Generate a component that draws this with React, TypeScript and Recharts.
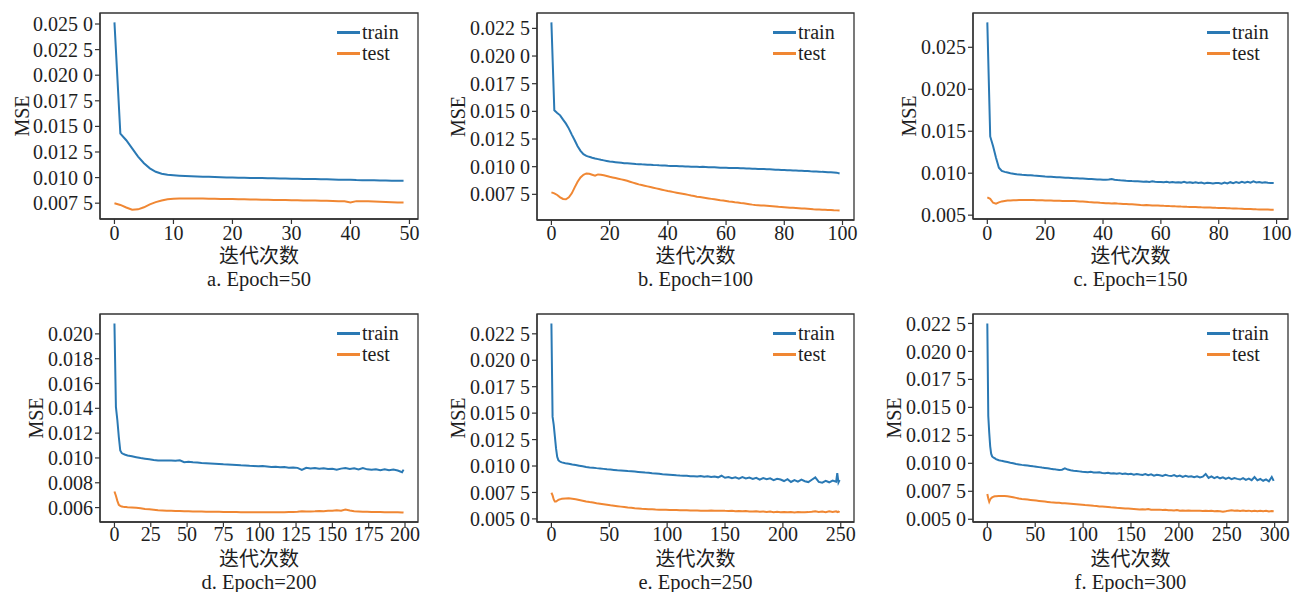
import React from 'react';
import { LineChart, Line, XAxis, YAxis, Legend, ReferenceArea } from 'recharts';

// ---------------- DATA ----------------
const trainA = [
  0.02516, 0.0143, 0.01365, 0.01285, 0.01205, 0.0114, 0.0109, 0.01057, 0.01037, 0.01027,
  0.01022, 0.01018, 0.01015, 0.01013, 0.01011, 0.01009, 0.01007, 0.01005, 0.01003, 0.01002,
  0.0100, 0.00999, 0.00998, 0.00997, 0.00996, 0.00995, 0.00994, 0.00993, 0.00991, 0.0099,
  0.00989, 0.00988, 0.00987, 0.00986, 0.00985, 0.00984, 0.00983, 0.00981, 0.0098, 0.00978,
  0.00979, 0.00976, 0.00975, 0.00974, 0.00973, 0.00972, 0.00971, 0.0097, 0.00969, 0.00968,
];
const testA = [
  0.0075, 0.00733, 0.00708, 0.00687, 0.0069, 0.0071, 0.00738, 0.0076, 0.00777, 0.00789,
  0.00794, 0.00796, 0.00796, 0.00796, 0.00795, 0.00795, 0.00794, 0.00793, 0.00792, 0.00791,
  0.0079, 0.00789, 0.00788, 0.00786, 0.00785, 0.00784, 0.00783, 0.00782, 0.00781, 0.0078,
  0.00779, 0.00778, 0.00777, 0.00776, 0.00775, 0.00774, 0.00773, 0.00771, 0.0077, 0.00768,
  0.00758, 0.0077, 0.0077, 0.00769, 0.00766, 0.00763, 0.00761, 0.00759, 0.00757, 0.00756,
];

const trainB = [
  0.02304, 0.01509, 0.01485, 0.01464, 0.01425, 0.01389, 0.01344, 0.0129, 0.01239, 0.01185,
  0.01143, 0.01113, 0.01098, 0.01089, 0.01081, 0.01074, 0.01068, 0.01062, 0.01057, 0.01052,
  0.01047, 0.01044, 0.01041, 0.01038, 0.01035, 0.01032, 0.0103, 0.01028, 0.01026, 0.01024,
  0.01023, 0.01021, 0.0102, 0.01018, 0.01017, 0.01015, 0.01014, 0.01012, 0.01011, 0.0101,
  0.01008, 0.01007, 0.01006, 0.01005, 0.01004, 0.01003, 0.01002, 0.01001, 0.0100, 0.0100,
  0.00999, 0.00998, 0.00999, 0.00997, 0.00995, 0.00994, 0.00995, 0.00993, 0.00991, 0.00991,
  0.0099, 0.00989, 0.00988, 0.00988, 0.00987, 0.00986, 0.00985, 0.00984, 0.00983, 0.00982,
  0.00981, 0.0098, 0.00979, 0.00978, 0.00977, 0.00976, 0.00975, 0.00973, 0.00972, 0.0097,
  0.00969, 0.00968, 0.00967, 0.00966, 0.00965, 0.00964, 0.00963, 0.00961, 0.0096, 0.00958,
  0.00957, 0.00956, 0.00955, 0.00953, 0.00952, 0.0095, 0.00949, 0.00948, 0.00946, 0.00939,
];
const testB = [
  0.00768, 0.00759, 0.00744, 0.00723, 0.00708, 0.00705, 0.00723, 0.00759, 0.00813, 0.00864,
  0.00903, 0.00927, 0.00939, 0.00936, 0.00927, 0.00918, 0.0093, 0.00927, 0.00922, 0.00916,
  0.00909, 0.00903, 0.00897, 0.00891, 0.00885, 0.00879, 0.00872, 0.00864, 0.00856, 0.00848,
  0.0084, 0.00834, 0.00828, 0.00822, 0.00816, 0.0081, 0.00804, 0.00798, 0.00792, 0.00786,
  0.0078, 0.00775, 0.0077, 0.00765, 0.0076, 0.00755, 0.0075, 0.00745, 0.00739, 0.00734,
  0.00729, 0.00725, 0.00721, 0.00717, 0.00713, 0.00709, 0.00705, 0.00701, 0.00697, 0.00694,
  0.0069, 0.00686, 0.00683, 0.00679, 0.00676, 0.00672, 0.00669, 0.00665, 0.00661, 0.00657,
  0.00654, 0.00652, 0.0065, 0.00648, 0.00646, 0.00644, 0.00642, 0.0064, 0.00637, 0.00635,
  0.00633, 0.00631, 0.00629, 0.00628, 0.00626, 0.00624, 0.00622, 0.00621, 0.00619, 0.00617,
  0.00615, 0.00614, 0.00613, 0.00611, 0.0061, 0.00609, 0.00608, 0.00606, 0.00605, 0.00603,
];

const trainC = [
  0.02797, 0.01438, 0.0132, 0.01184, 0.01066, 0.01027, 0.01016, 0.01008, 0.0100, 0.00994,
  0.00988, 0.00985, 0.00982, 0.0098, 0.00977, 0.00975, 0.00972, 0.0097, 0.00967, 0.00964,
  0.00961, 0.00959, 0.00957, 0.00955, 0.00953, 0.00951, 0.00949, 0.00947, 0.00945, 0.00943,
  0.00941, 0.00939, 0.00937, 0.00936, 0.00934, 0.00932, 0.0093, 0.00928, 0.00926, 0.00925,
  0.00922, 0.00921, 0.00924, 0.0093, 0.00922, 0.00918, 0.00915, 0.00913, 0.0091, 0.00908,
  0.00906, 0.00905, 0.00903, 0.00901, 0.00898, 0.00902, 0.00896, 0.00903, 0.00897, 0.00895,
  0.00895, 0.00892, 0.00897, 0.0089, 0.00894, 0.00889, 0.00893, 0.00888, 0.00898, 0.00886,
  0.00891, 0.00885, 0.00893, 0.00884, 0.00888, 0.00879, 0.00886, 0.00882, 0.00878, 0.00884,
  0.00883, 0.00876, 0.00889, 0.00878, 0.00893, 0.00882, 0.00894, 0.00884, 0.00897, 0.00888,
  0.00899, 0.00888, 0.00902, 0.0089, 0.00896, 0.00887, 0.00891, 0.00885, 0.00884, 0.00883,
];
const testC = [
  0.00711, 0.00695, 0.00648, 0.00637, 0.00652, 0.00664, 0.0067, 0.00674, 0.00676, 0.00678,
  0.00679, 0.0068, 0.0068, 0.0068, 0.0068, 0.0068, 0.0068, 0.00679, 0.00678, 0.00677,
  0.00676, 0.00675, 0.00674, 0.00673, 0.00672, 0.00671, 0.0067, 0.00669, 0.00669, 0.00668,
  0.00668, 0.00666, 0.00664, 0.00662, 0.0066, 0.00657, 0.00655, 0.00652, 0.0065, 0.00647,
  0.00645, 0.00643, 0.00642, 0.0064, 0.00641, 0.00638, 0.00636, 0.00634, 0.00632, 0.0063,
  0.00629, 0.00627, 0.00624, 0.0062, 0.00619, 0.0062, 0.00618, 0.00616, 0.00615, 0.00614,
  0.00613, 0.00611, 0.0061, 0.00608, 0.00607, 0.00605, 0.00604, 0.00602, 0.00601, 0.00599,
  0.00598, 0.00597, 0.00596, 0.00595, 0.00593, 0.00592, 0.00591, 0.0059, 0.00589, 0.00587,
  0.00586, 0.00586, 0.00585, 0.00583, 0.00581, 0.0058, 0.00579, 0.00578, 0.00577, 0.00575,
  0.00574, 0.00573, 0.00572, 0.0057, 0.00569, 0.00568, 0.00568, 0.00567, 0.00566, 0.00566,
];

const epochsD = [
  0, 1, 2, 3, 4, 5, 6, 7, 8, 9, 12, 15, 18, 21, 24, 27, 30, 33, 36, 39, 42, 45, 48, 51, 54, 57,
  60, 63, 66, 69, 72, 75, 78, 81, 84, 87, 90, 93, 96, 99, 102, 105, 108, 111, 114, 117, 120,
  123, 126, 129, 132, 135, 138, 141, 144, 147, 150, 153, 156, 159, 162, 165, 168, 171, 174,
  177, 180, 183, 186, 189, 192, 195, 198, 199,
];
const trainD = [
  0.02084, 0.01412, 0.01304, 0.01169, 0.0106, 0.01039, 0.01033, 0.01028, 0.01024, 0.0102,
  0.01013, 0.01006, 0.00999, 0.00994, 0.00989, 0.00984, 0.0098, 0.00979, 0.00979, 0.0098,
  0.00978, 0.00981, 0.00966, 0.00969, 0.00965, 0.00963, 0.0096, 0.00958, 0.00956, 0.00954,
  0.00952, 0.00949, 0.00948, 0.00946, 0.00944, 0.00941, 0.0094, 0.00937, 0.00935, 0.00933,
  0.00936, 0.00932, 0.00928, 0.00929, 0.00925, 0.00927, 0.00922, 0.00924, 0.0092, 0.00903,
  0.0092, 0.00916, 0.00919, 0.00914, 0.00917, 0.00911, 0.00913, 0.00905, 0.00914, 0.00919,
  0.00912, 0.00916, 0.00907, 0.00918, 0.00908, 0.00904, 0.00909, 0.00902, 0.00908, 0.00901,
  0.00906, 0.00899, 0.00885, 0.00906,
];
const testD = [
  0.0073, 0.00695, 0.00654, 0.00622, 0.00614, 0.00608, 0.00606, 0.00605, 0.00604, 0.00603,
  0.00601, 0.00598, 0.00594, 0.00589, 0.00586, 0.00582, 0.00578, 0.00577, 0.00575, 0.00574,
  0.00573, 0.00572, 0.00571, 0.0057, 0.00569, 0.00568, 0.00568, 0.00567, 0.00567, 0.00566,
  0.00566, 0.00565, 0.00565, 0.00564, 0.00564, 0.00563, 0.00563, 0.00563, 0.00562, 0.00562,
  0.00562, 0.00562, 0.00562, 0.00562, 0.00563, 0.00563, 0.00564, 0.00565, 0.00567, 0.00571,
  0.00568, 0.00569, 0.0057, 0.00572, 0.00571, 0.00574, 0.00575, 0.00579, 0.00574, 0.00584,
  0.00576, 0.00571, 0.00569, 0.00567, 0.00566, 0.00565, 0.00564, 0.00564, 0.00563, 0.00563,
  0.00562, 0.00562, 0.00561, 0.0056,
];

const epochsE = [
  0, 1, 2, 3, 4, 5, 6, 7, 8, 9, 12, 15, 18, 21, 24, 27, 30, 33, 36, 39, 42, 45, 48, 51, 54, 57,
  60, 63, 66, 69, 72, 75, 78, 81, 84, 87, 90, 93, 96, 99, 102, 105, 108, 111, 114, 117, 120,
  123, 126, 129, 132, 135, 138, 141, 144, 147, 150, 153, 156, 159, 162, 165, 168, 171, 174,
  177, 180, 183, 186, 189, 192, 195, 198, 201, 204, 207, 210, 213, 216, 219, 222, 225, 228,
  231, 234, 237, 240, 243, 246, 247, 248, 249,
];
const trainE = [
  0.02348, 0.01467, 0.01388, 0.01277, 0.01166, 0.01087, 0.01055, 0.01045, 0.01039, 0.01034,
  0.01027, 0.01022, 0.01014, 0.01009, 0.01003, 0.00997, 0.00991, 0.00987, 0.00984, 0.0098,
  0.00977, 0.00973, 0.00969, 0.00966, 0.00963, 0.0096, 0.00958, 0.00955, 0.00952, 0.0095,
  0.00947, 0.00944, 0.00941, 0.00938, 0.00936, 0.00932, 0.00929, 0.00926, 0.00922, 0.0092,
  0.00918, 0.00916, 0.00912, 0.0091, 0.00909, 0.00907, 0.00903, 0.00904, 0.00901, 0.00906,
  0.00899, 0.00904, 0.00896, 0.00901, 0.00893, 0.00908, 0.00889, 0.00896, 0.00885, 0.00893,
  0.00881, 0.00895, 0.00883, 0.00891, 0.00877, 0.00889, 0.00871, 0.00886, 0.00876, 0.00883,
  0.00866, 0.00879, 0.00872, 0.00858, 0.00876, 0.00849, 0.00866, 0.00852, 0.00871, 0.00856,
  0.00848, 0.0087, 0.00893, 0.0085, 0.00843, 0.00859, 0.00846, 0.00862, 0.00851,
  0.00932, 0.00845, 0.00868,
];
const testE = [
  0.00747, 0.00722, 0.00684, 0.00665, 0.00664, 0.00672, 0.00679, 0.00684, 0.00687, 0.0069,
  0.00693, 0.00694, 0.00691, 0.00686, 0.00679, 0.00672, 0.00665, 0.00659, 0.00654, 0.00648,
  0.00643, 0.00638, 0.00633, 0.00628, 0.00624, 0.0062, 0.00616, 0.00612, 0.00608, 0.00605,
  0.00601, 0.00598, 0.00595, 0.00593, 0.00591, 0.0059, 0.00588, 0.00587, 0.00587, 0.00586,
  0.00585, 0.00584, 0.00583, 0.00582, 0.00581, 0.00581, 0.0058, 0.00579, 0.0058, 0.00578,
  0.00578, 0.00577, 0.00579, 0.00577, 0.00576, 0.00578, 0.00576, 0.00575, 0.00577, 0.00573,
  0.00575, 0.00572, 0.00574, 0.00571, 0.00569, 0.00572, 0.00568, 0.0057, 0.00566, 0.00569,
  0.00564, 0.00567, 0.00563, 0.00566, 0.00562, 0.00565, 0.00561, 0.00564, 0.00562, 0.00563,
  0.00564, 0.00567, 0.00572, 0.00566, 0.00569, 0.00563, 0.00571, 0.00566, 0.00572,
  0.00565, 0.00569, 0.00562,
];

const epochsF = [
  0, 1, 2, 3, 4, 5, 6, 7, 8, 9, 12, 15, 18, 21, 24, 27, 30, 33, 36, 39, 42, 45, 48, 51, 54, 57,
  60, 63, 66, 69, 72, 75, 78, 81, 84, 87, 90, 93, 96, 99, 102, 105, 108, 111, 114, 117, 120,
  123, 126, 129, 132, 135, 138, 141, 144, 147, 150, 153, 156, 159, 162, 165, 168, 171, 174,
  177, 180, 183, 186, 189, 192, 195, 198, 201, 204, 207, 210, 213, 216, 219, 222, 225, 228,
  231, 234, 237, 240, 243, 246, 249, 252, 255, 258, 261, 264, 267, 270, 273, 276, 279, 282,
  285, 288, 291, 294, 297, 299,
];
const trainF = [
  0.0225, 0.01423, 0.01273, 0.01152, 0.01086, 0.01062, 0.01054, 0.01049, 0.01044, 0.01038,
  0.01028, 0.01022, 0.01017, 0.01011, 0.01005, 0.01, 0.00994, 0.0099, 0.00986, 0.00983,
  0.0098, 0.00977, 0.00973, 0.0097, 0.00966, 0.00962, 0.00959, 0.00955, 0.00951, 0.00948,
  0.00944, 0.00941, 0.00943, 0.00955, 0.00944, 0.00938, 0.00934, 0.00932, 0.00928, 0.00924,
  0.00923, 0.00921, 0.00924, 0.00918, 0.00917, 0.0092, 0.00914, 0.00912, 0.00916, 0.0091,
  0.00911, 0.00907, 0.00912, 0.00904, 0.00909, 0.00902, 0.00907, 0.00899, 0.00905, 0.009,
  0.00896, 0.00904, 0.00893, 0.00901, 0.00889, 0.00898, 0.00894, 0.00887, 0.00897, 0.0089,
  0.00886, 0.00895, 0.00882, 0.0089, 0.00878, 0.00888, 0.0088, 0.00885, 0.00876, 0.00884,
  0.00874, 0.00881, 0.00905, 0.0087, 0.00884, 0.00868, 0.00879, 0.00866, 0.00875, 0.00861,
  0.00872, 0.00858, 0.00869, 0.00861, 0.00855, 0.00868, 0.00852, 0.00863, 0.00849, 0.00877,
  0.00848, 0.0086, 0.00844, 0.00856, 0.00839, 0.00878, 0.00843,
];
const testF = [
  0.00726, 0.00686, 0.00656, 0.00677, 0.00688, 0.00695, 0.007, 0.00703, 0.00705, 0.00706,
  0.00707, 0.00708, 0.00707, 0.00705, 0.00701, 0.00696, 0.00691, 0.00686, 0.00682, 0.00679,
  0.00676, 0.00673, 0.0067, 0.00667, 0.00664, 0.00661, 0.00658, 0.00655, 0.00652, 0.0065,
  0.00648, 0.00647, 0.00644, 0.00642, 0.0064, 0.00638, 0.00636, 0.00634, 0.00632, 0.0063,
  0.00627, 0.00625, 0.00623, 0.0062, 0.00618, 0.00615, 0.00613, 0.00611, 0.00609, 0.00607,
  0.00606, 0.00603, 0.00601, 0.00599, 0.00597, 0.00596, 0.00594, 0.00592, 0.0059, 0.00588,
  0.00589, 0.00587, 0.00591, 0.00585, 0.00586, 0.00584, 0.00586, 0.00582, 0.00584, 0.0058,
  0.00581, 0.00578, 0.00582, 0.00576, 0.00579, 0.00576, 0.00578, 0.00575, 0.00577, 0.00575,
  0.00576, 0.00574, 0.00576, 0.00573, 0.00575, 0.00572, 0.00574, 0.00571, 0.00568, 0.00572,
  0.00577, 0.00581, 0.00576, 0.00579, 0.00574, 0.00578, 0.00573, 0.00577, 0.00572, 0.00576,
  0.00571, 0.00576, 0.00572, 0.00575, 0.0057, 0.00574, 0.00572,
];

// ---------------- TICKS ----------------
const xTicks50 = [0, 10, 20, 30, 40, 50];
const xTicks100 = [0, 20, 40, 60, 80, 100];
const xTicks200 = [0, 25, 50, 75, 100, 125, 150, 175, 200];
const xTicks250 = [0, 50, 100, 150, 200, 250];
const xTicks300 = [0, 50, 100, 150, 200, 250, 300];

const yTicksA = [0.0075, 0.01, 0.0125, 0.015, 0.0175, 0.02, 0.0225, 0.025];
const yLabelsA = ['0.007 5', '0.010 0', '0.012 5', '0.015 0', '0.017 5', '0.020 0', '0.022 5', '0.025 0'];
const yTicksB = [0.0075, 0.01, 0.0125, 0.015, 0.0175, 0.02, 0.0225];
const yLabelsB = ['0.007 5', '0.010 0', '0.012 5', '0.015 0', '0.017 5', '0.020 0', '0.022 5'];
const yTicksC = [0.005, 0.01, 0.015, 0.02, 0.025];
const yLabelsC = ['0.005', '0.010', '0.015', '0.020', '0.025'];
const yTicksD = [0.006, 0.008, 0.01, 0.012, 0.014, 0.016, 0.018, 0.02];
const yLabelsD = ['0.006', '0.008', '0.010', '0.012', '0.014', '0.016', '0.018', '0.020'];
const yTicksEF = [0.005, 0.0075, 0.01, 0.0125, 0.015, 0.0175, 0.02, 0.0225];
const yLabelsEF = ['0.005 0', '0.007 5', '0.010 0', '0.012 5', '0.015 0', '0.017 5', '0.020 0', '0.022 5'];

const captions = ['a. Epoch=50', 'b. Epoch=100', 'c. Epoch=150', 'd. Epoch=200', 'e. Epoch=250', 'f. Epoch=300'];
const xAxisTitle = '迭代次数';
const yAxisTitle = 'MSE';
const seriesNames = ['train', 'test'];

// ---------------- STYLE ----------------
const SERIF = '"Liberation Serif", "Times New Roman", Times, "DejaVu Serif", serif';
const TITLE_FONT = '"Liberation Serif", "Noto Sans CJK SC", "Noto Sans CJK JP", sans-serif';
const AXIS = '#333333';
const TEXT = '#1e1e1e';
const C_TRAIN = '#2a79b4';
const C_TEST = '#f08733';

const idx = (n: number) => Array.from({ length: n }, (_, i) => i);

function rows(epochs: number[], train: number[], test: number[]) {
  return epochs.map((e, i) => ({ epoch: e, train: train[i], test: test[i] }));
}

type Cfg = {
  left: number; top: number; w: number; h: number;
  box: [number, number, number, number];
  xDomain: [number, number]; xTicks: number[];
  yDomain: [number, number]; yTicks: number[]; yLabels: string[];
  mseX: number; caption: string; tickMargin: number; titleDy: number; captionDy: number; data: any[];
};

const panels: Cfg[] = [
  { left: 0, top: 0, w: 430, h: 300, box: [100, 13, 418, 219], xDomain: [-2.45, 51.45], xTicks: xTicks50,
    yDomain: [0.005955, 0.026075], yTicks: yTicksA, yLabels: yLabelsA, mseX: 21.7, caption: captions[0],
    tickMargin: 1.5, titleDy: 37, captionDy: 59.5, data: rows(idx(trainA.length), trainA, testA) },
  { left: 430, top: 0, w: 430, h: 300, box: [537, 13, 854, 220], xDomain: [-4.95, 103.95], xTicks: xTicks100,
    yDomain: [0.00518, 0.02389], yTicks: yTicksB, yLabels: yLabelsB, mseX: 28.3, caption: captions[1],
    tickMargin: 0.5, titleDy: 36, captionDy: 58.5, data: rows(idx(trainB.length), trainB, testB) },
  { left: 860, top: 0, w: 434, h: 300, box: [973, 13, 1288, 219], xDomain: [-4.95, 103.95], xTicks: xTicks100,
    yDomain: [0.004544, 0.029086], yTicks: yTicksC, yLabels: yLabelsC, mseX: 49, caption: captions[2],
    tickMargin: 1.5, titleDy: 37, captionDy: 59.5, data: rows(idx(trainC.length), trainC, testC) },
  { left: 0, top: 300, w: 430, h: 292, box: [100, 314, 418, 522], xDomain: [-9.95, 208.95], xTicks: xTicks200,
    yDomain: [0.004838, 0.021602], yTicks: yTicksD, yLabels: yLabelsD, mseX: 35.7, caption: captions[3],
    tickMargin: 0, titleDy: 36.5, captionDy: 59.5, data: rows(epochsD, trainD, testD) },
  { left: 430, top: 300, w: 430, h: 292, box: [537, 314, 854, 522], xDomain: [-12.45, 261.45], xTicks: xTicks250,
    yDomain: [0.004706, 0.024374], yTicks: yTicksEF, yLabels: yLabelsEF, mseX: 27.5, caption: captions[4],
    tickMargin: 0, titleDy: 36.5, captionDy: 59.5, data: rows(epochsE, trainE, testE) },
  { left: 860, top: 300, w: 434, h: 292, box: [973, 314, 1288, 522], xDomain: [-14.95, 313.95], xTicks: xTicks300,
    yDomain: [0.004755, 0.023345], yTicks: yTicksEF, yLabels: yLabelsEF, mseX: 34, caption: captions[5],
    tickMargin: 0, titleDy: 36.5, captionDy: 59.5, data: rows(epochsF, trainF, testF) },
];

function LegendContent(props: any) {
  const payload = [...(props.payload || [])].sort(
    (a: any, b: any) => seriesNames.indexOf(a.value) - seriesNames.indexOf(b.value)
  );
  return (
    <div style={{ fontFamily: SERIF, fontSize: 20, color: TEXT }}>
      {payload.map((p: any) => (
        <div key={p.value} style={{ display: 'flex', alignItems: 'center', height: 21, whiteSpace: 'nowrap' }}>
          <div style={{ width: 23, height: 2.2, background: p.color }} />
          <span style={{ marginLeft: 2, lineHeight: '21px' }}>{p.value}</span>
        </div>
      ))}
    </div>
  );
}

function Panel({ cfg }: { cfg: Cfg }) {
  const [bl, bt, br, bb] = cfg.box;
  const xh = 30;
  const margin = {
    top: bt - cfg.top,
    right: cfg.left + cfg.w - br,
    bottom: cfg.top + cfg.h - bb - xh,
    left: 0,
  };
  const tickStyle = { fontFamily: SERIF, fontSize: 20, fill: TEXT };
  const xFmt = (v: number) => String(v);
  const yFmt = (v: number) => {
    const i = cfg.yTicks.indexOf(v);
    return i >= 0 ? cfg.yLabels[i] : String(v);
  };
  return (
    <div style={{ position: 'absolute', left: cfg.left, top: cfg.top, width: cfg.w, height: cfg.h }}>
      <LineChart width={cfg.w} height={cfg.h} data={cfg.data} margin={margin}>
        <XAxis
          dataKey="epoch" type="number" domain={cfg.xDomain} allowDataOverflow ticks={cfg.xTicks}
          tickFormatter={xFmt} height={xh} tickSize={5} tickMargin={cfg.tickMargin}
          tick={tickStyle} stroke={AXIS} axisLine={{ stroke: AXIS, strokeWidth: 1.3 }}
          tickLine={{ stroke: AXIS, strokeWidth: 1.2 }} interval={0}
          label={(p: any) => {
            const vb = p.viewBox || { x: 0, y: 0, width: 0 };
            const cx = vb.x + vb.width / 2;
            return (
              <g>
                <text x={cx} y={vb.y + cfg.titleDy} textAnchor="middle" dominantBaseline="central"
                  style={{ fontFamily: TITLE_FONT, fontSize: 20, fill: TEXT }}>{xAxisTitle}</text>
                <text x={cx} y={vb.y + cfg.captionDy} textAnchor="middle" dominantBaseline="central"
                  style={{ fontFamily: SERIF, fontSize: 20.5, fill: TEXT }}>{cfg.caption}</text>
              </g>
            );
          }}
        />
        <YAxis
          type="number" domain={cfg.yDomain} allowDataOverflow ticks={cfg.yTicks} tickFormatter={yFmt}
          width={bl - cfg.left} tickSize={5} tickMargin={2} tick={tickStyle} interval={0}
          axisLine={{ stroke: AXIS, strokeWidth: 1.3 }} tickLine={{ stroke: AXIS, strokeWidth: 1.2 }}
          label={(p: any) => {
            const vb = p.viewBox || { x: 0, y: 0, height: 0 };
            const cx = vb.x + cfg.mseX;
            const cy = vb.y + vb.height / 2;
            return (
              <text x={cx} y={cy} transform={`rotate(-90 ${cx} ${cy})`} textAnchor="middle"
                dominantBaseline="central" style={{ fontFamily: SERIF, fontSize: 20, fill: TEXT }}>{yAxisTitle}</text>
            );
          }}
        />
        <ReferenceArea
          x1={cfg.xDomain[0]} x2={cfg.xDomain[1]} y1={cfg.yDomain[0]} y2={cfg.yDomain[1]}
          fill="none" fillOpacity={0} stroke={AXIS} strokeWidth={1.3} ifOverflow="visible"
        />
        <Legend
          layout="vertical" align="center" verticalAlign="middle" content={LegendContent}
          wrapperStyle={{ left: br - 81 - cfg.left, top: bt - cfg.top + 9, width: 'auto', height: 'auto' }}
        />
        <Line type="linear" dataKey="train" name={seriesNames[0]} stroke={C_TRAIN} strokeWidth={2}
          dot={false} activeDot={false} isAnimationActive={false} />
        <Line type="linear" dataKey="test" name={seriesNames[1]} stroke={C_TEST} strokeWidth={2}
          dot={false} activeDot={false} isAnimationActive={false} />
      </LineChart>
    </div>
  );
}

export default function App() {
  return (
    <div style={{ position: 'absolute', left: 0, top: 0, width: 1294, height: 592, background: '#ffffff' }}>
      {panels.map((cfg, i) => (
        <Panel key={i} cfg={cfg} />
      ))}
    </div>
  );
}
